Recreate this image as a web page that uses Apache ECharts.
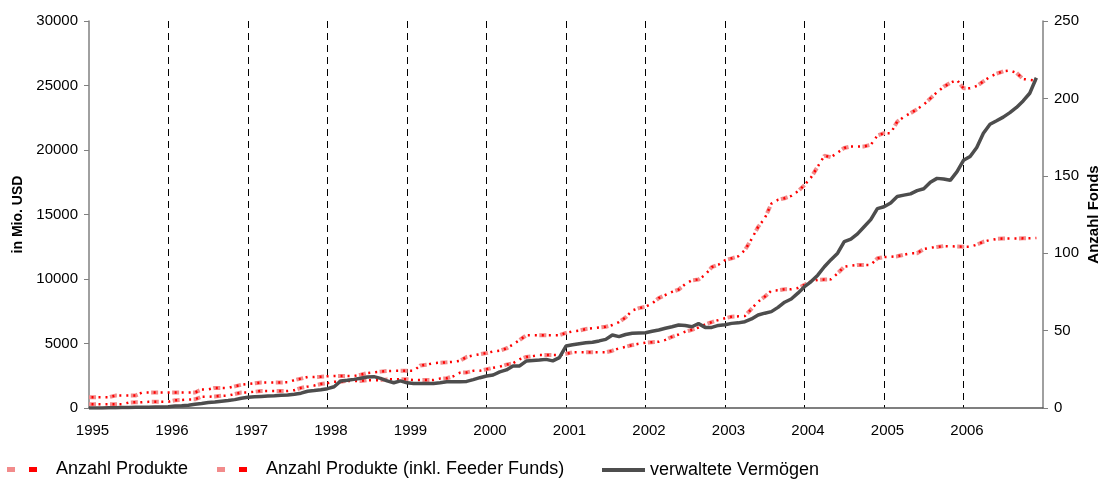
<!DOCTYPE html>
<html>
<head>
<meta charset="utf-8">
<script src="https://cdn.jsdelivr.net/npm/echarts@6/dist/echarts.min.js"></script>
<style>
html,body{margin:0;padding:0;background:#fff;}
#chart{width:1103px;height:479px;}
</style>
</head>
<body>
<div id="chart"></div>
<script>
// ---- data ----
const years = ['1995','1996','1997','1998','1999','2000','2001','2002','2003','2004','2005','2006','2007'];
const monthNames = ['01','02','03','04','05','06','07','08','09','10','11','12'];
const leftTicks = [0, 5000, 10000, 15000, 20000, 25000, 30000];
const rightTicks = [0, 50, 100, 150, 200, 250];

// verwaltete Vermögen (in Mio. USD), monthly Jan 1995 - Dec 2006
const aum = [
  0, 0, 0, 10, 20, 30, 40, 50, 50, 60, 70, 80,
  100, 150, 180, 220, 290, 350, 420, 460, 530, 580, 650, 750,
  830, 870, 900, 930, 950, 980, 1000, 1060, 1150, 1300, 1350, 1420,
  1500, 1650, 2100, 2150, 2220, 2300, 2400, 2430, 2300, 2100, 1960, 2100,
  1950, 1900, 1900, 1900, 1900, 1950, 2030, 2040, 2040, 2060, 2200, 2350,
  2480, 2560, 2800, 2950, 3250, 3260, 3640, 3680, 3720, 3770, 3650, 3900,
  4800, 4900, 4980, 5050, 5100, 5200, 5320, 5660, 5530, 5700, 5800, 5820,
  5840, 5950, 6050, 6180, 6300, 6430, 6400, 6300, 6540, 6250, 6250, 6400,
  6450, 6560, 6600, 6690, 6900, 7210, 7350, 7470, 7800, 8200, 8450, 8900,
  9400, 9800, 10300, 10950, 11500, 12000, 12900, 13100, 13500, 14050, 14600, 15450,
  15600, 15900, 16400, 16500, 16600, 16850, 17000, 17500, 17800, 17750, 17650, 18300,
  19200, 19500, 20200, 21300, 22000, 22270, 22550, 22900, 23300, 23800, 24400, 25600
];

// Anzahl Produkte (inkl. Feeder Funds)
const productsFeeder = [
  7, 7, 7, 7, 8, 8, 8, 8, 10, 10, 10, 10,
  10, 10, 10, 10, 10, 12, 12, 13, 13, 13, 14, 15,
  15.5, 16, 16.5, 16.5, 16.5, 16.5, 16.6, 18, 19, 20, 20, 20.2,
  20.5, 20.7, 20.7, 20.7, 20.7, 21.5, 22.5, 23, 23.5, 23.9, 24, 24,
  24, 24, 27.5, 28, 29, 29.3, 29.5, 29.8, 30.5, 33, 34, 34.7,
  35.5, 36.5, 37, 38.5, 41, 44, 47, 47, 47, 47, 47, 47,
  48.5, 49.5, 50, 51, 51.5, 52, 52.5, 53.6, 55.5, 58.5, 63, 64.5,
  65.4, 67.5, 71, 73, 75, 76.5, 80, 82.5, 83, 86, 91, 92.5,
  95.5, 96.7, 98, 102, 109, 117, 122.5, 132, 134.5, 135.5, 137, 140,
  144, 149, 156, 163, 162, 165, 168, 169, 169, 169, 170, 176,
  177.5, 177.5, 185, 188, 190.5, 193, 196, 200, 204, 207.5, 210, 212,
  206.5, 206.5, 208, 211, 214, 216, 217.5, 218, 216.5, 212.5, 212, 211.5
];

// Anzahl Produkte
const products = [
  2.4, 2.4, 2.4, 2.4, 2.4, 2.5, 3.5, 3.7, 3.7, 4, 4.1, 4.1,
  4.1, 5, 5.2, 5.5, 5.6, 7.3, 7.3, 7.5, 7.9, 8, 9, 10,
  10.1, 10.5, 11, 11, 11, 11, 11, 11.5, 13, 13.8, 14.5, 15.5,
  16, 17, 17, 17.5, 17.5, 17.5, 18, 18, 18, 18.5, 18.5, 18.5,
  18.5, 18.1, 18.1, 18.1, 18.1, 19, 19.2, 20.5, 22.8, 23, 24, 24.1,
  25, 26, 26.7, 28, 28.9, 31.5, 33, 33.5, 34.2, 34.2, 34.2, 34.2,
  35, 36, 36, 36, 36, 36, 36, 37, 38.6, 39.5, 40.7, 41.5,
  42.2, 42.5, 42.8, 44, 46, 47.5, 49.3, 50.5, 52, 54, 55.5, 56.8,
  58, 59, 59.2, 59.4, 64, 68.7, 71.9, 75.8, 76, 76.7, 76.7, 77.5,
  79.5, 82, 82.7, 83, 83.1, 87, 91.3, 92, 92.4, 92.4, 92.4, 96.7,
  97.5, 97.7, 98, 99, 99.9, 100, 102.7, 103.5, 104, 104.6, 104.5, 104.3,
  104.2, 104.2, 105.5, 107.4, 108.5, 109.2, 109.5, 109.5, 109.5, 109.6, 109.6, 109.8
];

const NAME_P = 'Anzahl Produkte';
const NAME_PF = 'Anzahl Produkte (inkl. Feeder Funds)';
const NAME_A = 'verwaltete Vermögen';

// month categories (Jan 1995 ... Jan 2007)
const categories = [];
years.forEach(function (y, i) {
  if (i < years.length - 1) monthNames.forEach(function (m) { categories.push(y + '-' + m); });
  else categories.push(y + '-01');
});
const lastIdx = categories.length - 1;

const FONT = '"Liberation Sans", Arial, sans-serif';
const PINK = '#f28b8b';
const RED = '#ff0000';
const GRAY = '#4d4d4d';

function pinkSeries(name, data) {
  return {
    name: name, type: 'line', yAxisIndex: 1, data: data,
    showSymbol: false, symbol: 'none', animation: false,
    lineStyle: { color: PINK, width: 4, type: [7, 14], cap: 'butt' },
    itemStyle: { color: PINK }, z: 2
  };
}
function dotSeries(name, data) {
  return {
    name: name, type: 'line', yAxisIndex: 1, data: data,
    showSymbol: false, symbol: 'none', animation: false,
    lineStyle: { color: RED, width: 2.5, type: [2, 5], dashOffset: -2.5, cap: 'butt' },
    itemStyle: { color: RED }, z: 3
  };
}

// legend icon: pink dash + red dash, then a transparent tail so the text sits further right
const dashIconColor = {
  type: 'linear', x: 0, y: 0, x2: 1, y2: 0,
  colorStops: [
    { offset: 0, color: PINK }, { offset: 0.5, color: PINK },
    { offset: 0.5, color: RED }, { offset: 0.68, color: RED },
    { offset: 0.68, color: 'rgba(255,0,0,0)' }, { offset: 1, color: 'rgba(255,0,0,0)' }
  ]
};
const dashIcon = 'path://M0,0h8v5h-8z M22,0h22v5h-22z';
const legendText = { color: '#000', fontFamily: FONT, fontSize: 18 };

const chart = echarts.init(document.getElementById('chart'), null, { renderer: 'canvas' });
chart.setOption({
  animation: false,
  backgroundColor: '#fff',
  grid: { left: 89, right: 60, top: 21, bottom: 71, containLabel: false, outerBoundsMode: 'none' },
  legend: [
    {
      left: 7, top: 460.5, padding: 0, itemWidth: 44, itemHeight: 5, itemGap: 5,
      symbolKeepAspect: false,
      data: [{ name: NAME_P, icon: dashIcon, itemStyle: { color: dashIconColor } }],
      textStyle: legendText
    },
    {
      left: 217, top: 460.5, padding: 0, itemWidth: 44, itemHeight: 5, itemGap: 5,
      symbolKeepAspect: false,
      data: [{ name: NAME_PF, icon: dashIcon, itemStyle: { color: dashIconColor } }],
      textStyle: legendText
    },
    {
      left: 602, top: 461, padding: 0, itemWidth: 43, itemHeight: 4, itemGap: 5,
      symbolKeepAspect: false,
      data: [{ name: NAME_A, icon: 'rect', itemStyle: { color: GRAY } }],
      textStyle: legendText
    }
  ],
  xAxis: {
    type: 'category', data: categories, boundaryGap: false,
    axisLine: { show: true, lineStyle: { color: '#555', width: 1.5 } },
    axisTick: { show: false },
    axisLabel: {
      color: '#000', fontFamily: FONT, fontSize: 15, margin: 15, padding: [0, 0, 0, 7],
      interval: function (i) { return i % 12 === 0 && i !== lastIdx; },
      formatter: function (v) { return v.slice(0, 4); }
    },
    splitLine: {
      show: true,
      interval: function (i) { return i % 12 === 0 && i !== 0 && i !== lastIdx; },
      lineStyle: { color: '#000', width: 1, type: [7, 5] }
    }
  },
  yAxis: [
    {
      type: 'value', min: leftTicks[0], max: leftTicks[leftTicks.length - 1], interval: 5000,
      position: 'left',
      name: 'in Mio. USD', nameLocation: 'middle', nameRotate: 90, nameGap: 64,
      nameMoveOverlap: false,
      nameTextStyle: { color: '#000', fontFamily: FONT, fontSize: 14, fontWeight: 'bold' },
      axisLine: { show: true, lineStyle: { color: '#808080', width: 1.5 } },
      axisTick: { show: true, length: 5, inside: false, lineStyle: { color: '#808080' } },
      axisLabel: { color: '#000', fontFamily: FONT, fontSize: 15, margin: 11,
        formatter: function (v) { return String(v); } },
      splitLine: { show: false }
    },
    {
      type: 'value', min: rightTicks[0], max: rightTicks[rightTicks.length - 1], interval: 50,
      position: 'right',
      name: 'Anzahl Fonds', nameLocation: 'middle', nameRotate: 90, nameGap: 43,
      nameMoveOverlap: false,
      nameTextStyle: { color: '#000', fontFamily: FONT, fontSize: 15, fontWeight: 'bold' },
      axisLine: { show: true, lineStyle: { color: '#808080', width: 1.5 } },
      axisTick: { show: true, length: 5, inside: false, lineStyle: { color: '#808080' } },
      axisLabel: { color: '#000', fontFamily: FONT, fontSize: 15, margin: 11,
        formatter: function (v) { return String(v); } },
      splitLine: { show: false }
    }
  ],
  series: [
    pinkSeries(NAME_P, products),
    dotSeries(NAME_P, products),
    pinkSeries(NAME_PF, productsFeeder),
    dotSeries(NAME_PF, productsFeeder),
    {
      name: NAME_A, type: 'line', yAxisIndex: 0, data: aum,
      showSymbol: false, symbol: 'none', animation: false,
      lineStyle: { color: GRAY, width: 3.5 },
      itemStyle: { color: GRAY }, z: 4
    }
  ]
});
</script>
</body>
</html>
